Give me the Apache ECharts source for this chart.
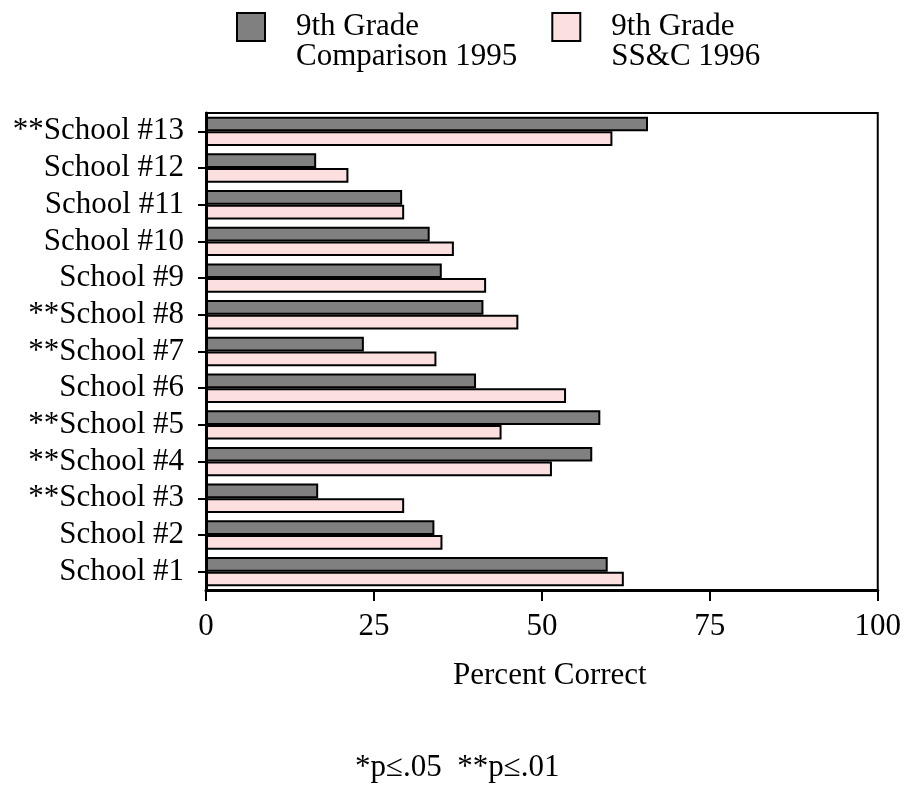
<!DOCTYPE html>
<html>
<head>
<meta charset="utf-8">
<title>Percent Correct</title>
<script src="https://cdn.jsdelivr.net/npm/echarts/dist/echarts.min.js"></script>
<style>
  html, body { margin: 0; padding: 0; background: #fff; }
  #chart { width: 904px; height: 790px; }
</style>
</head>
<body>
<div id="chart"></div>
<script>
  'use strict'

  /*-----data-----*/
  var schools = ['School #1', 'School #2', '**School #3', '**School #4', '**School #5', 'School #6',
    '**School #7', '**School #8', 'School #9', 'School #10', 'School #11', 'School #12', '**School #13'];
  var comparison1995 = [59.8, 34.0, 16.7, 57.5, 58.7, 40.2, 23.5, 41.3, 35.1, 33.3, 29.2, 16.4, 65.8];
  var ssc1996 = [62.2, 35.2, 29.5, 51.5, 44.0, 53.6, 34.3, 46.5, 41.7, 36.9, 29.5, 21.2, 60.5];
  var seriesNames = ['9th Grade\nComparison 1995', '9th Grade\nSS&C 1996'];
  var xTicks = [0, 25, 50, 75, 100];

  var font = 'Liberation Serif';
  var fs = 31;

  var option = {
    animation: false,
    textStyle: { fontFamily: font, color: '#000' },
    title: {
      text: '*p\u2264.05  **p\u2264.01',
      left: 355,
      top: 752,
      padding: 0,
      textStyle: { fontFamily: font, fontSize: fs, fontWeight: 'normal', color: '#000' }
    },
    legend: {
      data: seriesNames,
      left: 236,
      top: 11,
      padding: 0,
      itemWidth: 28,
      itemHeight: 28,
      itemGap: 34,
      icon: 'rect',
      // square sits level with the first line of each two-line name
      formatter: function (name) {
        var p = name.split('\n');
        return '{g1| }{a|' + p[0] + '}\n{g2| }{b|' + p[1] + '}';
      },
      textStyle: {
        fontFamily: font,
        fontSize: fs,
        color: '#000',
        rich: {
          g1: { width: 26, lineHeight: 60, fontSize: 2 },
          a: { fontFamily: font, fontSize: fs, lineHeight: 30, verticalAlign: 'bottom', color: '#000' },
          g2: { width: 26, lineHeight: 30, fontSize: 2 },
          b: { fontFamily: font, fontSize: fs, lineHeight: 30, color: '#000' }
        }
      }
    },
    grid: {
      left: 206,
      right: 26,
      top: 113,
      bottom: 200,
      show: true,
      borderColor: '#000',
      borderWidth: 2,
      containLabel: false
    },
    xAxis: {
      type: 'value',
      min: 0,
      max: 100,
      interval: 25,
      name: 'Percent Correct',
      nameLocation: 'middle',
      nameGap: 70,
      nameTextStyle: { fontFamily: font, fontSize: fs, color: '#000', padding: [0, 0, 0, 16] },
      splitLine: { show: false },
      axisLine: { show: true, lineStyle: { color: '#000', width: 3 } },
      axisTick: { show: true, length: 11, lineStyle: { color: '#000', width: 2 } },
      axisLabel: {
        fontFamily: font,
        fontSize: fs,
        color: '#000',
        margin: 21,
        formatter: function (v) { return xTicks.indexOf(v) > -1 ? String(v) : ''; }
      }
    },
    yAxis: {
      type: 'category',
      data: schools,
      axisLine: { show: true, lineStyle: { color: '#000', width: 3 } },
      axisTick: { show: true, alignWithLabel: true, length: 8, lineStyle: { color: '#000', width: 2 } },
      axisLabel: { fontFamily: font, fontSize: fs, color: '#000', margin: 22, interval: 0 },
      splitLine: { show: false }
    },
    series: [
      {
        name: seriesNames[0],
        type: 'bar',
        data: comparison1995,
        barWidth: 14.7,
        barGap: '0%',
        itemStyle: { color: '#808080', borderColor: '#000', borderWidth: 2 }
      },
      {
        name: seriesNames[1],
        type: 'bar',
        data: ssc1996,
        barWidth: 14.7,
        barGap: '0%',
        itemStyle: { color: '#fce0e0', borderColor: '#000', borderWidth: 2 }
      }
    ]
  };

  var chart = echarts.init(document.getElementById('chart'));
  chart.setOption(option);
</script>
</body>
</html>
